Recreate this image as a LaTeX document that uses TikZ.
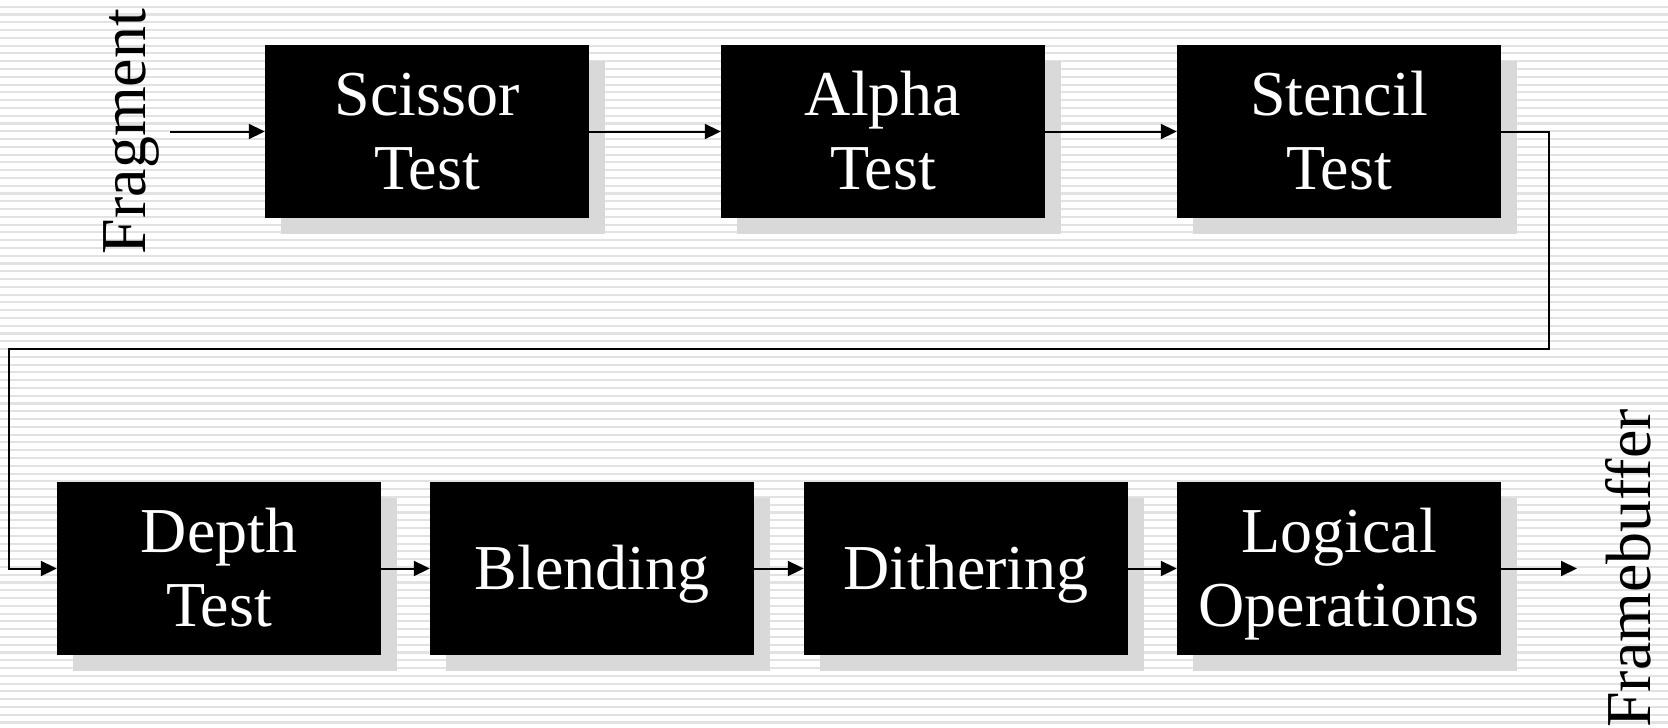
\documentclass[tikz,border=0pt]{standalone}
\usepackage{fontspec}
\setmainfont{Liberation Serif}
\usetikzlibrary{arrows.meta,shadows}
\definecolor{shadowgray}{RGB}{217,217,217}
\definecolor{stripegray}{RGB}{226,226,226}
\newcommand\bigfont{\fontsize{64pt}{74pt}\selectfont}
\newcommand\lnstrut{\rule[-15.6pt]{0pt}{73.6pt}}
\tikzset{
  stagebox/.style={fill=black, text=white, minimum width=324pt, minimum height=173pt,
    inner sep=0pt, align=center, font=\bigfont,
    drop shadow={shadow xshift=16pt, shadow yshift=-16pt, fill=shadowgray, opacity=1}},
  arr/.style={line width=2pt, -{Triangle[length=16pt,width=15pt]}},
  sidelabel/.style={rotate=90, anchor=base, font=\bigfont, inner sep=0pt}
}
\begin{document}
\begin{tikzpicture}[x=1pt,y=-1pt]
\useasboundingbox (0,0) rectangle (1668,728);
\fill[white] (0,0) rectangle (1668,728);
\foreach \i in {0,...,93}{
  \fill[stripegray] (0,{5.7+7.78*\i}) rectangle (1668,{7.8+7.78*\i});
}
% top row
\node[stagebox] (sc) at (427,131.5) {\lnstrut Scissor\\\lnstrut Test};
\node[stagebox] (al) at (883,131.5) {\lnstrut Alpha\\\lnstrut Test};
\node[stagebox] (st) at (1339,131.5) {\lnstrut Stencil\\\lnstrut Test};
% bottom row
\node[stagebox] (de) at (219,568.5) {\lnstrut Depth\\\lnstrut Test};
\node[stagebox] (bl) at (592,568.5) {\lnstrut Blending};
\node[stagebox] (di) at (966,568.5) {\lnstrut Dithering};
\node[stagebox] (lo) at (1339,568.5) {\lnstrut Logical\\\lnstrut Operations};
% side labels
\node[sidelabel] (frag) at (145,131.5) {Fragment};
\node[sidelabel] (fb) at (1650,568.5) {Framebuffer};
% connectors
\coordinate (fragstart) at (170,131.5);
\coordinate (r1) at (1549,349);
\coordinate (l1) at (9,349);
\coordinate (fbend) at (1577,568.5);
\draw[arr] (fragstart) -- (sc.west);
\draw[arr] (sc.east) -- (al.west);
\draw[arr] (al.east) -- (st.west);
\draw[arr] (st.east) -| (r1) -- (l1) |- (de.west);
\draw[arr] (de.east) -- (bl.west);
\draw[arr] (bl.east) -- (di.west);
\draw[arr] (di.east) -- (lo.west);
\draw[arr] (lo.east) -- (fbend);
\end{tikzpicture}
\end{document}
